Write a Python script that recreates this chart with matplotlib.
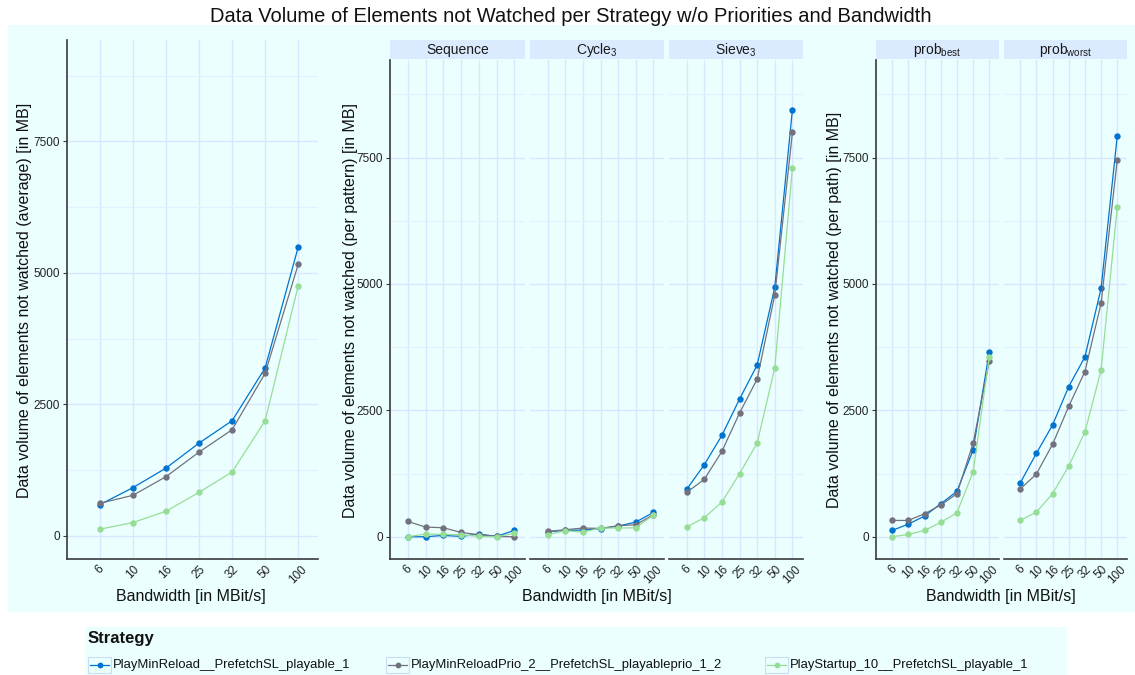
import matplotlib
matplotlib.use("Agg")
import matplotlib.pyplot as plt
from matplotlib.lines import Line2D
from matplotlib.patches import Rectangle
import numpy as np

BASE_FONT = "Liberation Sans"

plt.rcParams["font.family"] = [BASE_FONT, "DejaVu Sans"]
plt.rcParams["mathtext.fontset"] = "custom"
plt.rcParams["mathtext.rm"] = BASE_FONT
plt.rcParams["mathtext.it"] = BASE_FONT + ":italic"

# ---- data -------------------------------------------------------------
bandwidths = ["6", "10", "16", "25", "32", "50", "100"]
strategies = [
    "PlayMinReload__PrefetchSL_playable_1",
    "PlayMinReloadPrio_2__PrefetchSL_playableprio_1_2",
    "PlayStartup_10__PrefetchSL_playable_1",
]
colors = ["#0073CF", "#72727F", "#96DE96"]

# average over everything
avg_minreload = [596, 918, 1290, 1765, 2190, 3195, 5491]
avg_prio = [620, 772, 1127, 1594, 2019, 3093, 5161]
avg_startup = [127, 254, 469, 829, 1215, 2190, 4757]

# per pattern
seq_minreload = [0, 0, 26, 7, 53, 7, 126]
seq_prio = [304, 192, 178, 86, 40, 7, 0]
seq_startup = [0, 53, 46, 40, 7, 0, 66]

cyc_minreload = [99, 126, 132, 159, 211, 290, 482]
cyc_prio = [106, 139, 172, 165, 218, 238, 436]
cyc_startup = [40, 119, 92, 172, 172, 178, 429]

sieve_minreload = [937, 1424, 2005, 2723, 3396, 4935, 8446]
sieve_prio = [877, 1134, 1688, 2446, 3119, 4786, 7998]
sieve_startup = [191, 376, 686, 1246, 1853, 3343, 7298]

# per path
best_minreload = [125, 250, 409, 653, 897, 1716, 3657]
best_prio = [323, 323, 455, 627, 851, 1848, 3472]
best_startup = [0, 46, 125, 283, 475, 1280, 3560]

worst_minreload = [1062, 1650, 2210, 2970, 3557, 4917, 7933]
worst_prio = [943, 1240, 1828, 2580, 3267, 4620, 7458]
worst_startup = [323, 488, 851, 1398, 2071, 3299, 6527]

pattern_names = ["Sequence", r"Cycle$_\mathrm{3}$", r"Sieve$_\mathrm{3}$"]
path_names = [r"prob$_\mathrm{best}$", r"prob$_\mathrm{worst}$"]

title = "Data Volume of Elements not Watched per Strategy w/o Priorities and Bandwidth"
xlabel = "Bandwidth [in MBit/s]"
ylabels = [
    "Data volume of elements not watched (average) [in MB]",
    "Data volume of elements not watched (per pattern) [in MB]",
    "Data volume of elements not watched (per path) [in MB]",
]

# ---- styling ----------------------------------------------------------
BG = "#EBFFFF"
STRIP = "#DBEBFF"
GRID_MAJOR = "#DAE6FF"
GRID_MINOR = "#E2F1FF"
SPINE = "#3A3A3A"
W, H = 1135, 675

fig = plt.figure(figsize=(W / 100, H / 100), dpi=100)
fig.patch.set_facecolor("white")


def fx(px):
    return px / W


def fy(py):
    return 1 - py / H


# plot-area background band
fig.patches.append(Rectangle((fx(8), fy(612)), fx(1135) - fx(8), fy(25) - fy(612),
                             transform=fig.transFigure, facecolor=BG,
                             edgecolor="none", zorder=-10))

fig.text(fx(571), fy(17), title, ha="center", va="center", fontsize=14.5,
         color="#111111")

x = np.arange(1, len(bandwidths) + 1)
YLIM = (-440, 9430)


def make_panel(left, right, top, bottom, series, show_y=True, strip=None):
    ax = fig.add_axes([fx(left), fy(bottom), fx(right) - fx(left), fy(top) - fy(bottom)])
    ax.set_facecolor("none")
    ax.set_xlim(0, 7.6)
    ax.set_ylim(*YLIM)
    ax.set_yticks([0, 2500, 5000, 7500])
    ax.set_yticks([1250, 3750, 6250, 8750], minor=True)
    ax.set_xticks(x)
    ax.set_xticklabels(bandwidths)
    ax.grid(which="major", color=GRID_MAJOR, linewidth=1.0, zorder=0)
    ax.grid(which="minor", axis="y", color=GRID_MINOR, linewidth=0.8, zorder=0)
    ax.set_axisbelow(True)
    for s in ["top", "right"]:
        ax.spines[s].set_visible(False)
    ax.spines["bottom"].set_color(SPINE)
    ax.spines["bottom"].set_linewidth(1.2)
    if show_y:
        ax.spines["left"].set_color(SPINE)
        ax.spines["left"].set_linewidth(1.2)
    else:
        ax.spines["left"].set_visible(False)
    ax.tick_params(axis="x", length=0, pad=3, labelsize=8.5, labelcolor="#222222",
                   rotation=45)
    ax.tick_params(axis="y", which="major", length=3, width=0.8, color=SPINE,
                   pad=2, labelsize=8.5, labelcolor="#222222", labelleft=show_y,
                   left=show_y)
    ax.tick_params(axis="y", which="minor", length=0)
    for vals, col in zip(series, colors):
        ax.plot(x, vals, color=col, linewidth=0.9, marker="o", markersize=4.6,
                markeredgewidth=0, zorder=3, clip_on=False)
    if strip is not None:
        sh = 19
        sax = fig.add_axes([fx(left), fy(top - 1), fx(right) - fx(left), fy(top - 1 - sh) - fy(top - 1)])
        sax.set_facecolor(STRIP)
        sax.set_xticks([])
        sax.set_yticks([])
        for s in sax.spines.values():
            s.set_visible(False)
        sax.text(0.5, 0.45, strip, ha="center", va="center", fontsize=10,
                 color="#1A1A1A", transform=sax.transAxes)
    return ax


# left: average
make_panel(67, 318, 40, 559, [avg_minreload, avg_prio, avg_startup])

# middle: per pattern
pattern_series = [
    [seq_minreload, seq_prio, seq_startup],
    [cyc_minreload, cyc_prio, cyc_startup],
    [sieve_minreload, sieve_prio, sieve_startup],
]
pattern_bounds = [(390, 525), (530, 664), (669, 803)]
for i, ((l, r), ser, name) in enumerate(zip(pattern_bounds, pattern_series, pattern_names)):
    make_panel(l, r, 60, 559, ser, show_y=(i == 0), strip=name)

# right: per path
path_series = [
    [best_minreload, best_prio, best_startup],
    [worst_minreload, worst_prio, worst_startup],
]
path_bounds = [(876, 999), (1004, 1127)]
for i, ((l, r), ser, name) in enumerate(zip(path_bounds, path_series, path_names)):
    make_panel(l, r, 60, 559, ser, show_y=(i == 0), strip=name)

# axis titles
for cx, lab in zip([25, 350, 834], ylabels):
    cy = 300 if cx == 25 else 310
    fig.text(fx(cx), fy(cy), lab, rotation=90, ha="center", va="center",
             fontsize=11.5, color="#111111")
for cx in [191, 597, 1001]:
    fig.text(fx(cx), fy(596), xlabel, ha="center", va="center", fontsize=11.5,
             color="#111111")

# legend
fig.patches.append(Rectangle((fx(85), fy(675)), fx(1067) - fx(85), fy(627) - fy(675),
                             transform=fig.transFigure, facecolor=BG,
                             edgecolor="none", zorder=-10))
fig.text(fx(88), fy(638), "Strategy", ha="left", va="center", fontsize=12,
         fontweight="bold", color="#111111")
key_x = [88, 386, 765]
for kx, col, lab in zip(key_x, colors, strategies):
    fig.patches.append(Rectangle((fx(kx), fy(673)), fx(23), fy(657) - fy(673),
                                 transform=fig.transFigure, facecolor=BG,
                                 edgecolor="#C9DDF5", linewidth=0.8, zorder=1))
    fig.lines.append(Line2D([fx(kx + 2), fx(kx + 21)], [fy(665), fy(665)],
                            transform=fig.transFigure, color=col, linewidth=0.9,
                            zorder=2))
    fig.lines.append(Line2D([fx(kx + 11.5)], [fy(665)], transform=fig.transFigure,
                            color=col, marker="o", markersize=4.2,
                            markeredgewidth=0, zorder=3))
    fig.text(fx(kx + 25), fy(665), lab, ha="left", va="center", fontsize=9.4,
             color="#111111")

fig.savefig("out.png", dpi=100, facecolor="white")
